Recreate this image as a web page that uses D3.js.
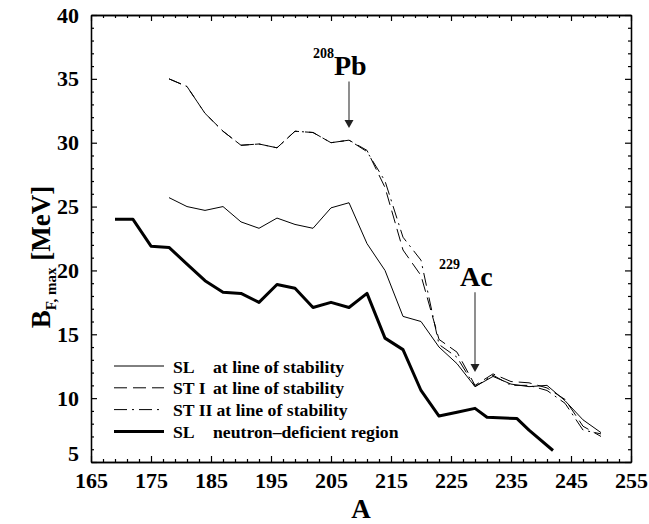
<!DOCTYPE html>
<html>
<head>
<meta charset="utf-8">
<script src="https://cdn.jsdelivr.net/npm/d3@7"></script>
<style>
  body { margin: 0; background: #fff; }
  svg text { font-family: "Liberation Serif", "Times New Roman", serif; font-weight: bold; }
</style>
</head>
<body>
<div id="chart"></div>
<script>
// mass numbers
var aStab = [178,181,184,187,190,193,196,199,202,205,208,211,214,217,220,223,226,229,232,235,238,241,244,247,250];
var aDef  = [169,172,175,178,181,184,187,190,193,196,199,202,205,208,211,214,217,220,223,226,229,231,236,238,242];
// barrier heights (MeV)
var slStab  = [25.7,25.0,24.7,25.0,23.8,23.3,24.1,23.6,23.3,24.9,25.3,22.1,20.0,16.4,16.0,14.0,12.7,10.9,11.7,11.1,10.9,11.0,9.8,8.3,7.3];
var st1Stab = [35.0,34.4,32.3,30.9,29.8,29.9,29.6,30.9,30.8,30.0,30.2,29.4,26.5,21.6,19.6,14.6,13.6,11.0,11.9,11.3,11.2,10.8,9.9,7.8,7.0];
var st2Stab = [35.0,34.4,32.3,30.9,29.8,29.9,29.6,30.9,30.8,30.0,30.2,29.3,27.0,22.6,20.8,14.2,13.2,10.9,11.8,11.0,11.0,10.6,9.6,7.5,7.2];
var slDef   = [24.0,24.0,21.9,21.8,20.5,19.2,18.3,18.2,17.5,18.9,18.6,17.1,17.5,17.1,18.2,14.7,13.8,10.6,8.6,8.9,9.2,8.5,8.4,7.5,5.9];

var xMajor = [165,175,185,195,205,215,225,235,245,255];
var yMajor = [5,10,15,20,25,30,35,40];

var legendNames = ["SL", "ST I", "ST II", "SL"];
var legendDesc  = ["at line of stability", "at line of stability", "at line of stability", "neutron\u2013deficient region"];

var notes = [
  { iso: "208", el: "Pb", a: 208, from: 34.8, to: 31.15 },
  { iso: "229", el: "Ac", a: 229, from: 18.3, to: 12.05 }
];

var W = 649, H = 524;
var margin = { top: 15, right: 18, bottom: 62, left: 91 },
    width = W - margin.left - margin.right,
    height = H - margin.top - margin.bottom;

var svg = d3.select("#chart").append("svg")
    .attr("width", W).attr("height", H);
var g = svg.append("g")
    .attr("transform", "translate(" + margin.left + "," + margin.top + ")");

var x = d3.scaleLinear().domain([165, 255]).range([0, width]);
var y = d3.scaleLinear().domain([5, 40]).range([height, 0]);

var xMinor = d3.range(165, 256, 2).filter(function (v) { return (v - 165) % 10 != 0; });
var yMinor = d3.range(5, 41, 1).filter(function (v) { return v % 5 != 0; });

function styleAxis(sel) {
    sel.selectAll("path.domain").attr("stroke", "#000").attr("stroke-width", 1.3);
    sel.selectAll(".tick line").attr("stroke", "#000").attr("stroke-width", 1.2);
}
function styleLabels(sel) {
    sel.selectAll("text").attr("font-size", 22).attr("fill", "#000").attr("font-family", null);
}

// bottom
g.append("g").attr("transform", "translate(0," + height + ")")
    .call(d3.axisBottom(x).tickValues(xMajor).tickSizeInner(-6).tickSizeOuter(0).tickPadding(10).tickFormat(d3.format("d")))
    .call(styleAxis)
    .call(styleLabels);
g.append("g").attr("transform", "translate(0," + height + ")")
    .call(d3.axisBottom(x).tickValues(xMinor).tickSizeInner(-3).tickSizeOuter(0).tickFormat(""))
    .call(styleAxis);
// top
g.append("g")
    .call(d3.axisTop(x).tickValues(xMajor).tickSizeInner(-6).tickSizeOuter(0).tickFormat(""))
    .call(styleAxis);
g.append("g")
    .call(d3.axisTop(x).tickValues(xMinor).tickSizeInner(-3).tickSizeOuter(0).tickFormat(""))
    .call(styleAxis);
// left
g.append("g")
    .call(d3.axisLeft(y).tickValues(yMajor).tickSizeInner(-6).tickSizeOuter(0).tickPadding(12).tickFormat(d3.format("d")))
    .call(styleAxis)
    .call(styleLabels)
    .call(function (s) {
        // lowest label sits a bit higher so it clears the 165
        s.selectAll(".tick").filter(function (d) { return d == 5; }).select("text").attr("dy", "-0.05em");
    });
g.append("g")
    .call(d3.axisLeft(y).tickValues(yMinor).tickSizeInner(-3).tickSizeOuter(0).tickFormat(""))
    .call(styleAxis);
// right
g.append("g").attr("transform", "translate(" + width + ",0)")
    .call(d3.axisRight(y).tickValues(yMajor).tickSizeInner(-6).tickSizeOuter(0).tickFormat(""))
    .call(styleAxis);
g.append("g").attr("transform", "translate(" + width + ",0)")
    .call(d3.axisRight(y).tickValues(yMinor).tickSizeInner(-3).tickSizeOuter(0).tickFormat(""))
    .call(styleAxis);

// the lines
var series = [
    { xs: aStab, ys: slStab,  w: 1,   dash: null },
    { xs: aStab, ys: st1Stab, w: 1,   dash: "13,6" },
    { xs: aStab, ys: st2Stab, w: 1,   dash: "13,5,2,5" },
    { xs: aDef,  ys: slDef,   w: 3,   dash: null }
];
var line = d3.line()
    .x(function (d) { return x(d[0]); })
    .y(function (d) { return y(d[1]); });

series.forEach(function (s) {
    g.append("path")
        .datum(d3.zip(s.xs, s.ys))
        .attr("fill", "none")
        .attr("stroke", "#000")
        .attr("stroke-width", s.w)
        .attr("stroke-linejoin", "round")
        .attr("stroke-dasharray", s.dash)
        .attr("d", line);
});

// arrows + nucleus labels
notes.forEach(function (n) {
    var ax = x(n.a), y0 = y(n.from), y1 = y(n.to);
    g.append("line")
        .attr("x1", ax).attr("x2", ax)
        .attr("y1", y0).attr("y2", y1 - 6)
        .attr("stroke", "#444").attr("stroke-width", 1.2);
    g.append("path")
        .attr("d", "M" + (ax - 4.5) + "," + (y1 - 8) + "L" + (ax + 4.5) + "," + (y1 - 8) + "L" + ax + "," + y1 + "Z")
        .attr("fill", "#222");
    var t = g.append("text")
        .attr("x", ax - 36).attr("y", y0 - 6)
        .attr("fill", "#000");
    t.append("tspan").attr("font-size", 14).attr("dy", -17).text(n.iso);
    t.append("tspan").attr("font-size", 28).attr("dy", 17).text(n.el);
});

// legend
var lg = g.append("g").attr("transform", "translate(23," + (height - 96) + ")");
series.forEach(function (s, i) {
    var yy = i * 21.8;
    lg.append("line")
        .attr("x1", 0).attr("x2", 50)
        .attr("y1", yy).attr("y2", yy)
        .attr("stroke", "#000")
        .attr("stroke-width", s.w)
        .attr("stroke-dasharray", s.dash);
    var nm = lg.append("text")
        .attr("x", 59).attr("y", yy + 6.5)
        .attr("font-size", 17.7).attr("fill", "#000")
        .text(legendNames[i]);
    var endX = 59 + nm.node().getComputedTextLength() + 4;
    lg.append("text")
        .attr("x", Math.max(99, endX)).attr("y", yy + 6.5)
        .attr("font-size", 17.7).attr("fill", "#000")
        .text(legendDesc[i]);
});

// axis titles
svg.append("text")
    .attr("x", margin.left + width / 2).attr("y", 518)
    .attr("text-anchor", "middle")
    .attr("font-size", 27).attr("fill", "#000")
    .text("A");

var yt = svg.append("text")
    .attr("transform", "translate(50,257) rotate(-90)")
    .attr("text-anchor", "middle")
    .attr("font-size", 27).attr("fill", "#000");
yt.append("tspan").text("B");
yt.append("tspan").attr("font-size", 15).attr("dy", 6).text("F, max");
yt.append("tspan").attr("dy", -6).text(" [MeV]");
</script>
</body>
</html>
